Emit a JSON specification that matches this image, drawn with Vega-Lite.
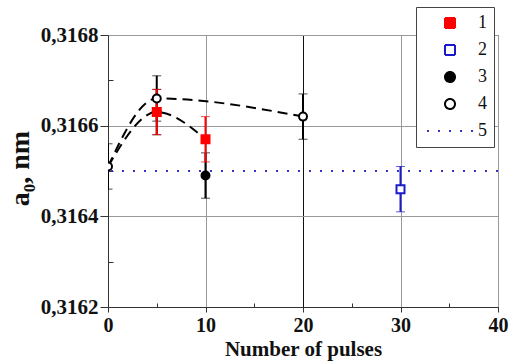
{
  "$schema": "https://vega.github.io/schema/vega-lite/v6.json",
  "width": 390,
  "height": 272,
  "autosize": {"type": "none"},
  "padding": {"left": 108, "top": 35, "right": 18, "bottom": 57},
  "background": "white",
  "config": {
    "view": {"stroke": "#444", "strokeWidth": 1},
    "font": "Liberation Serif"
  },
  "datasets": {
    "lines": [
      {"grp": "A", "x": 0, "y": 0.31651},
      {"grp": "A", "x": 5, "y": 0.31663},
      {"grp": "A", "x": 10, "y": 0.31657},
      {"grp": "B", "x": 0, "y": 0.31651},
      {"grp": "B", "x": 5, "y": 0.31666},
      {"grp": "B", "x": 20, "y": 0.31662}
    ],
    "pts": [
      {"series": "3", "x": 5, "y": 0.31663, "lo": 0.31658, "hi": 0.31668},
      {"series": "3", "x": 10, "y": 0.31649, "lo": 0.31644, "hi": 0.31654},
      {"series": "4", "x": 0, "y": 0.31651, "lo": 0.31646, "hi": 0.31656},
      {"series": "4", "x": 5, "y": 0.31666, "lo": 0.31661, "hi": 0.31671},
      {"series": "4", "x": 20, "y": 0.31662, "lo": 0.31657, "hi": 0.31667},
      {"series": "2", "x": 30, "y": 0.31646, "lo": 0.31641, "hi": 0.31651},
      {"series": "1", "x": 5, "y": 0.31663, "lo": 0.31658, "hi": 0.31668},
      {"series": "1", "x": 10, "y": 0.31657, "lo": 0.31652, "hi": 0.31662}
    ],
    "ref": [
      {"series": "5", "y": 0.3165}
    ]
  },
  "layer": [
    {
      "data": {"name": "lines"},
      "mark": {"type": "line", "interpolate": "monotone", "color": "black", "strokeWidth": 2, "strokeDash": [10, 6], "clip": true},
      "encoding": {
        "x": {
          "field": "x", "type": "quantitative", "title": "Number of pulses",
          "scale": {"domain": [0, 40], "nice": false},
          "axis": {
            "values": [0, 5, 10, 15, 20, 25, 30, 35, 40],
            "labelExpr": "datum.value % 10 == 0 ? datum.label : ''",
            "tickSize": {"condition": {"test": "datum.value % 10 != 0", "value": -4}, "value": 5},
            "gridOpacity": {"condition": {"test": "datum.value % 10 != 0", "value": 0}, "value": 1},
            "gridColor": {"condition": {"test": "datum.value == 20", "value": "#111"}, "value": "#999"},
            "grid": true,
            "domainColor": "#333",
            "tickColor": "#333",
            "labelFont": "Liberation Serif",
            "labelFontWeight": "bold",
            "labelFontSize": 20,
            "labelColor": "#111",
            "labelPadding": 3,
            "labelFlush": false,
            "titleFont": "Liberation Serif",
            "titleFontWeight": "bold",
            "titleFontSize": 21,
            "titleColor": "#111",
            "titleBaseline": "alphabetic",
            "titleY": 48
          }
        },
        "y": {
          "field": "y", "type": "quantitative", "title": "a₀, nm",
          "scale": {"domain": [0.3162, 0.3168], "nice": false, "zero": false},
          "axis": {
            "values": [0.3162, 0.3163, 0.3164, 0.3165, 0.3166, 0.3167, 0.3168],
            "labelExpr": "round(datum.value*10000) % 2 == 0 ? replace(format(datum.value, '.4f'), '.', ',') : ''",
            "tickSize": {"condition": {"test": "round(datum.value*10000) % 2 == 1", "value": -5}, "value": 8},
            "gridOpacity": {"condition": {"test": "round(datum.value*10000) % 2 == 1", "value": 0}, "value": 1},
            "gridColor": "#999",
            "grid": true,
            "domainColor": "#333",
            "tickColor": "#333",
            "labelFont": "Liberation Serif",
            "labelFontWeight": "bold",
            "labelFontSize": 21,
            "labelColor": "#111",
            "labelPadding": 2,
            "labelFlush": false,
            "titleFont": "Liberation Serif",
            "titleFontWeight": "bold",
            "titleFontSize": 28,
            "titleColor": "#111",
            "titleBaseline": "alphabetic",
            "titleX": -80,
            "titleY": 133
          }
        },
        "detail": {"field": "grp"}
      }
    },
    {
      "data": {"name": "ref"},
      "mark": {"type": "rule", "strokeDash": [2, 9], "strokeWidth": 2},
      "encoding": {
        "y": {"field": "y", "type": "quantitative", "title": "a₀, nm", "scale": {"domain": [0.3162, 0.3168], "nice": false, "zero": false}},
        "stroke": {
          "field": "series", "type": "nominal",
          "scale": {"domain": ["1", "2", "3", "4", "5"], "range": ["red", "#1a1acc", "black", "black", "#3333cc"]}
        }
      }
    },
    {
      "data": {"name": "pts"},
      "transform": [{"filter": "datum.series == '3' || datum.series == '4'"}],
      "mark": {"type": "errorbar", "ticks": {"size": 9, "color": "black", "strokeWidth": 2}, "rule": {"color": "black", "strokeWidth": 2}, "clip": true},
      "encoding": {
        "x": {"field": "x", "type": "quantitative", "title": "Number of pulses", "scale": {"domain": [0, 40], "nice": false}},
        "y": {"field": "lo", "type": "quantitative", "title": "a₀, nm", "scale": {"domain": [0.3162, 0.3168], "nice": false, "zero": false}},
        "y2": {"field": "hi"}
      }
    },
    {
      "data": {"name": "pts"},
      "transform": [{"filter": "datum.series == '2'"}],
      "mark": {"type": "errorbar", "ticks": {"size": 9, "color": "#1a1acc", "strokeWidth": 2}, "rule": {"color": "#1a1acc", "strokeWidth": 2}, "clip": true},
      "encoding": {
        "x": {"field": "x", "type": "quantitative", "title": "Number of pulses", "scale": {"domain": [0, 40], "nice": false}},
        "y": {"field": "lo", "type": "quantitative", "title": "a₀, nm", "scale": {"domain": [0.3162, 0.3168], "nice": false, "zero": false}},
        "y2": {"field": "hi"}
      }
    },
    {
      "data": {"name": "pts"},
      "transform": [{"filter": "datum.series == '1'"}],
      "mark": {"type": "errorbar", "ticks": {"size": 9, "color": "red", "strokeWidth": 2}, "rule": {"color": "red", "strokeWidth": 2}, "clip": true},
      "encoding": {
        "x": {"field": "x", "type": "quantitative", "title": "Number of pulses", "scale": {"domain": [0, 40], "nice": false}},
        "y": {"field": "lo", "type": "quantitative", "title": "a₀, nm", "scale": {"domain": [0.3162, 0.3168], "nice": false, "zero": false}},
        "y2": {"field": "hi"}
      }
    },
    {
      "data": {"name": "pts"},
      "mark": {"type": "point", "filled": false, "strokeWidth": 2, "size": 64, "opacity": 1, "clip": true},
      "encoding": {
        "x": {"field": "x", "type": "quantitative", "title": "Number of pulses", "scale": {"domain": [0, 40], "nice": false}},
        "y": {"field": "y", "type": "quantitative", "title": "a₀, nm", "scale": {"domain": [0.3162, 0.3168], "nice": false, "zero": false}},
        "order": {"field": "series", "sort": "descending"},
        "fill": {
          "field": "series", "type": "nominal",
          "scale": {"domain": ["1", "2", "3", "4", "5"], "range": ["red", "white", "black", "white", "transparent"]},
          "legend": {
            "title": null,
            "orient": "none",
            "legendX": 308,
            "legendY": -28,
            "padding": 7,
            "strokeColor": "#444",
            "fillColor": "white",
            "labelFont": "Liberation Serif",
            "labelFontSize": 18,
            "labelColor": "#111",
            "labelOffset": 19,
            "symbolOffset": 18,
            "rowPadding": 9,
            "symbolSize": 100,
            "symbolStrokeWidth": 2,
            "symbolOpacity": 1,
            "encode": {
              "symbols": {
                "update": {
                  "strokeDash": {"signal": "datum.value === '5' ? [2, 9] : [1, 0]"}
                }
              }
            }
          }
        },
        "stroke": {
          "field": "series", "type": "nominal",
          "scale": {"domain": ["1", "2", "3", "4", "5"], "range": ["red", "#1a1acc", "black", "black", "#3333cc"]}
        },
        "shape": {
          "field": "series", "type": "nominal",
          "scale": {"domain": ["1", "2", "3", "4", "5"], "range": ["square", "square", "circle", "circle", "M-4.6,0H4.6"]}
        }
      }
    }
  ]
}
